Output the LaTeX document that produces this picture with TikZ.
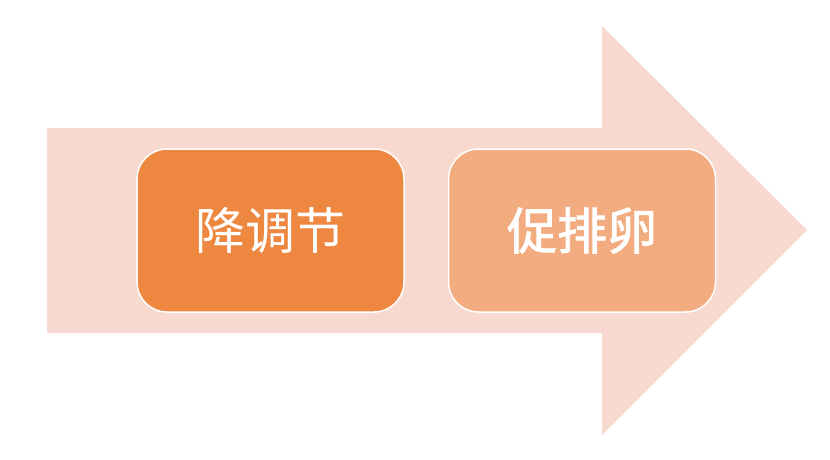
\documentclass[tikz,border=0pt]{standalone}
\usepackage{fontspec}
\newfontfamily\cjk{Noto Sans CJK SC}
\newfontfamily\cjkmid[FakeBold=1.6]{Noto Sans CJK SC}
\usetikzlibrary{positioning}
\usetikzlibrary{calc}
\definecolor{arrowpeach}{HTML}{F8D9CF}
\definecolor{stepdark}{HTML}{EE8740}
\definecolor{steplight}{HTML}{F3AB80}
\tikzstyle{stepbox}=[rectangle,rounded corners=30pt,draw=white,line width=1.5pt,minimum width=267pt,minimum height=163pt,inner sep=0pt,text=white,font=\cjk\fontsize{50}{60}\selectfont]

\begin{document}
\begin{tikzpicture}[x=1pt,y=-1pt]
\useasboundingbox (0,0) rectangle (830,460);

%arrow
    \coordinate (s1) at (47,128);
    \coordinate (s2) at (602,128);
    \coordinate (h1) at (602,26);
    \coordinate (tip) at (807,230);
    \coordinate (h2) at (602,435);
    \coordinate (s3) at (602,333);
    \coordinate (s4) at (47,333);
    \fill[arrowpeach] (s1) -- (s2) -- (h1) -- (tip) -- (h2) -- (s3) -- (s4) -- cycle;

%steps
    \node[stepbox, fill=stepdark] (down) at (270.5,230.5) {降调节};
    \node[stepbox, fill=steplight, right=43pt of down, font=\cjkmid\fontsize{50}{60}\selectfont] (ovul) {促排卵};

\end{tikzpicture}
\end{document}
